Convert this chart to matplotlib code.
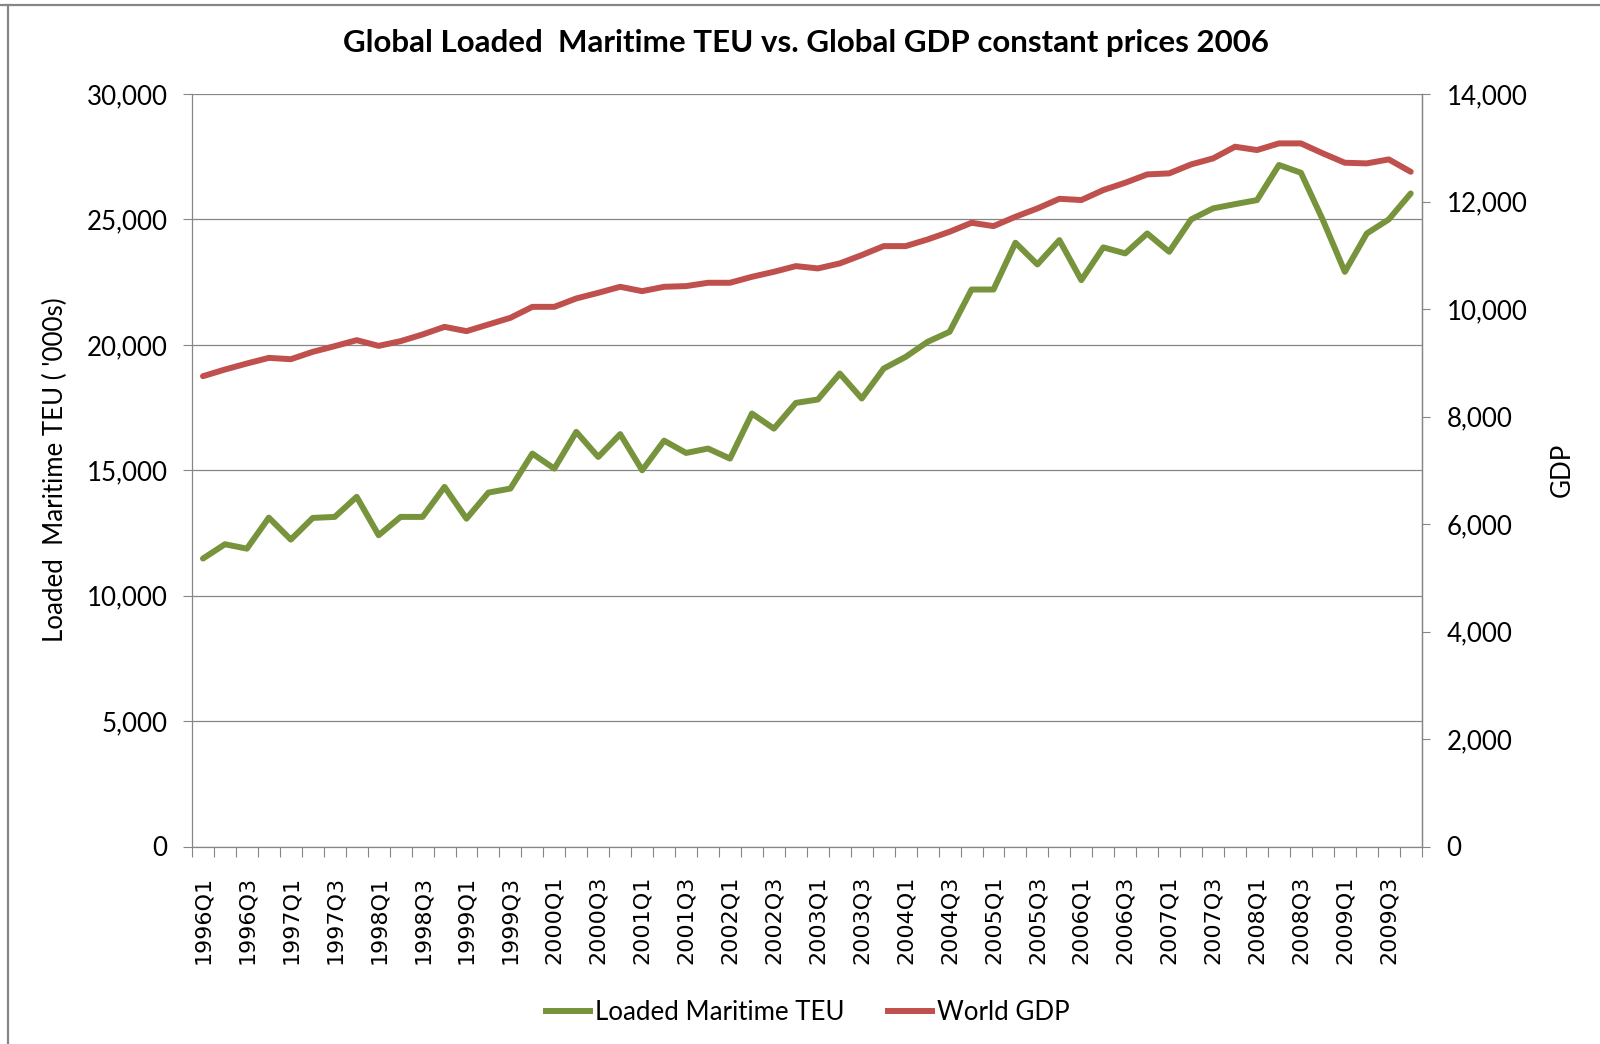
import numpy as np
import matplotlib
matplotlib.use("Agg")
import matplotlib.pyplot as plt
from matplotlib.lines import Line2D
from matplotlib.ticker import FuncFormatter, FixedLocator

# Quarterly series, 1996Q1 .. 2009Q4
years = list(range(1996, 2010))
quarters = [f"{y}Q{q}" for y in years for q in range(1, 5)]

teu = [11480, 12050, 11875, 13110, 12235, 13100, 13140, 13940,
       12410, 13140, 13140, 14335, 13070, 14110, 14270, 15665,
       15065, 16530, 15530, 16440, 15000, 16180, 15690, 15865,
       15465, 17260, 16660, 17685, 17820, 18855, 17860, 19055,
       19520, 20120, 20520, 22205, 22205, 24070, 23205, 24175,
       22580, 23885, 23645, 24440, 23710, 25000, 25440, 25610,
       25770, 27170, 26860, 24975, 22910, 24440, 25000, 26035]

gdp = [8750, 8874, 8986, 9091, 9066, 9203, 9309, 9420,
       9314, 9402, 9526, 9668, 9588, 9712, 9836, 10040,
       10040, 10196, 10301, 10413, 10332, 10413, 10426, 10488,
       10488, 10599, 10692, 10798, 10755, 10848, 11003, 11170,
       11170, 11294, 11437, 11604, 11542, 11716, 11871, 12050,
       12027, 12213, 12349, 12504, 12523, 12690, 12802, 13019,
       12957, 13081, 13081, 12895, 12721, 12709, 12783, 12553]

left_ticks = [0, 5000, 10000, 15000, 20000, 25000, 30000]
right_ticks = [0, 2000, 4000, 6000, 8000, 10000, 12000, 14000]

GREEN = "#77933C"
RED = "#C0504D"
GRAY = "#868686"
UI_FONT = ["Lato", "DejaVu Sans"]

fig = plt.figure(figsize=(16, 10.44), dpi=100)
W, H = 1600, 1044

def fx(px):
    return px / W

def fy(py):
    return 1 - py / H

ax = fig.add_axes([fx(192), fy(846.5), fx(1421.7) - fx(192), fy(94) - fy(846.5)])
ax2 = ax.twinx()

x = np.arange(len(quarters))
ax.plot(x, teu, color=GREEN, lw=4.3, solid_joinstyle="round",
        solid_capstyle="round", zorder=3)
ax2.plot(x, gdp, color=RED, lw=4.3, solid_joinstyle="round",
         solid_capstyle="round", zorder=3)

ax.set_xlim(-0.5, len(quarters) - 0.5)
ax.set_ylim(0, 30000)
ax2.set_ylim(0, 14000)

comma = FuncFormatter(lambda v, p: f"{int(v):,}")

# left axis
ax.set_yticks(left_ticks)
ax.yaxis.set_major_formatter(comma)
ax.tick_params(axis="y", direction="out", length=6.5, width=0.8,
               color=GRAY, pad=11, labelsize=18.6)
ax.grid(axis="y", color=GRAY, lw=0.9, zorder=0)
ax.set_axisbelow(True)

# right axis
ax2.set_yticks(right_ticks)
ax2.yaxis.set_major_formatter(comma)
ax2.tick_params(axis="y", direction="out", length=6, width=0.8,
                color=GRAY, pad=12, labelsize=18.6)

# category axis: boundary ticks, labels on every second quarter
ax.xaxis.set_major_locator(FixedLocator(np.arange(-0.5, len(quarters), 1)))
ax.xaxis.set_major_formatter(FuncFormatter(lambda v, p: ""))
ax.tick_params(axis="x", which="major", direction="out", length=7.5,
               width=0.8, color=GRAY)
ax.set_xticks(x[::2], quarters[::2], minor=True)
ax.tick_params(axis="x", which="minor", length=0, pad=21, labelsize=16,
               labelrotation=90)
for lab in ax.get_xticklabels(minor=True):
    lab.set_fontfamily("DejaVu Sans")

for a in (ax, ax2):
    for side in ("left", "right", "bottom"):
        a.spines[side].set_color(GRAY)
        a.spines[side].set_linewidth(0.9)
    a.spines["top"].set_visible(False)
ax2.spines["left"].set_visible(False)
ax2.spines["bottom"].set_visible(False)

for lab in ax.get_yticklabels() + ax2.get_yticklabels():
    lab.set_fontfamily(UI_FONT)

fig.text(fx(806), fy(43), "Global Loaded  Maritime TEU vs. Global GDP constant prices 2006",
         ha="center", va="center", fontsize=22.5, fontweight="bold", family=UI_FONT)
fig.text(fx(55), fy(470), "Loaded  Maritime TEU ( '000s)", rotation=90,
         ha="center", va="center", fontsize=18.6, family=UI_FONT)
fig.text(fx(1562), fy(470), "GDP", rotation=90,
         ha="center", va="center", fontsize=18.6, family=UI_FONT)

handles = [Line2D([], [], color=GREEN, lw=4.3), Line2D([], [], color=RED, lw=4.3)]
fig.legend(handles, ["Loaded Maritime TEU", "World GDP"], loc="center",
           bbox_to_anchor=(fx(808), fy(1013)), ncol=2, frameon=False,
           prop={"family": UI_FONT, "size": 18.6}, handlelength=1.7,
           handletextpad=0.2, columnspacing=1.7)

# outer frame
fig.add_artist(Line2D([0, 1], [fy(4.5), fy(4.5)], color=GRAY, lw=1.6,
                      transform=fig.transFigure))
fig.add_artist(Line2D([fx(7.5), fx(7.5)], [0, fy(4.5)], color=GRAY, lw=1.6,
                      transform=fig.transFigure))

fig.savefig("out.png", dpi=100)
